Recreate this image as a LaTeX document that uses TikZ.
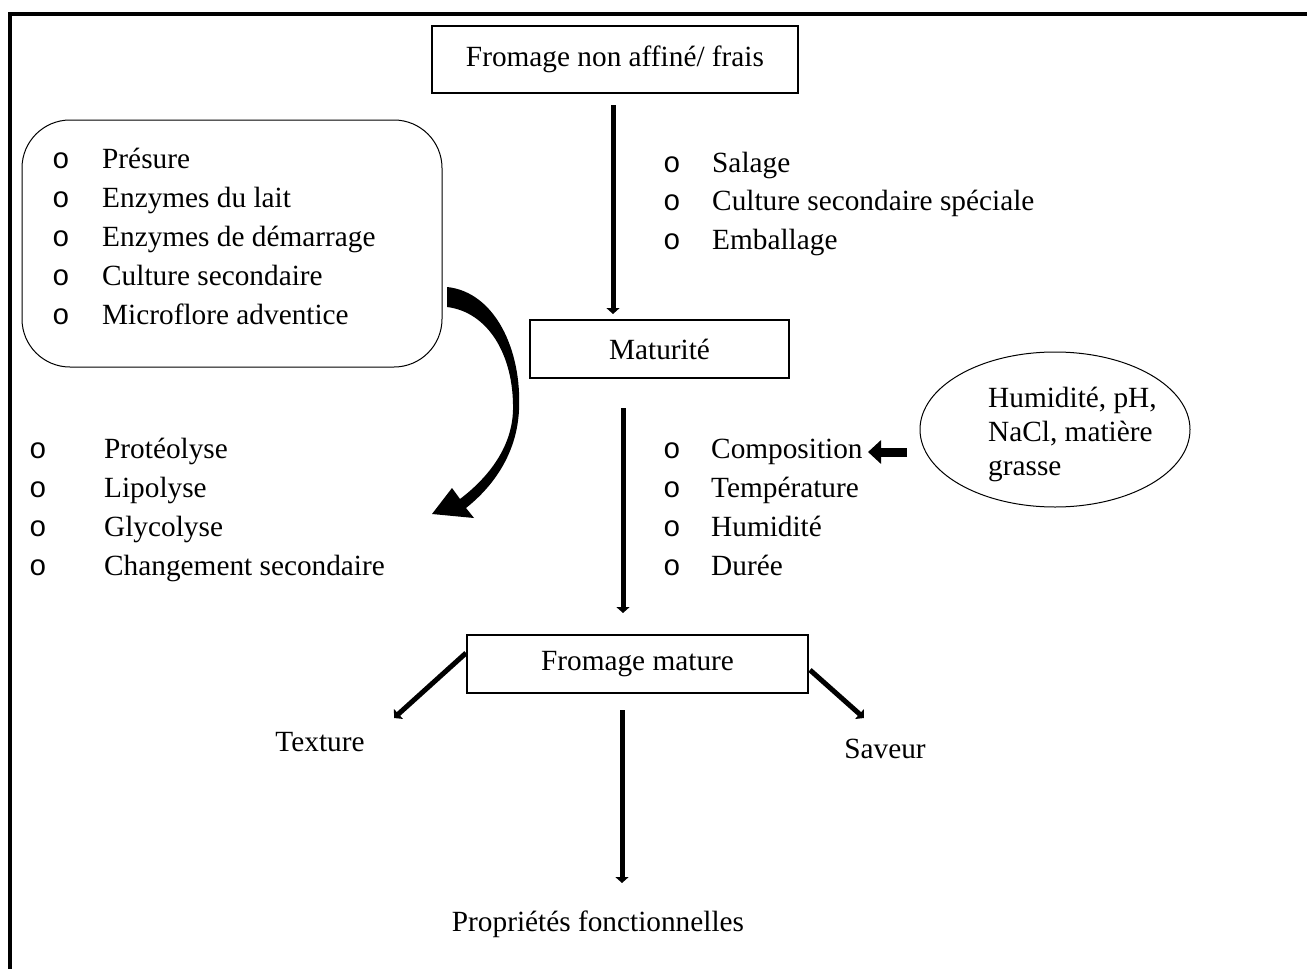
\documentclass[tikz,border=0pt]{standalone}
\usepackage{fontspec}
\setmainfont{Liberation Serif}
\setmonofont{Liberation Mono}
\usetikzlibrary{arrows.meta,shapes.geometric}
\newcommand\bulo[1]{\makebox[#1pt][l]{\ttfamily o}}
\begin{document}
\begin{tikzpicture}[x=1pt,y=-1pt,
  font=\fontsize{29.3}{34}\selectfont,
  box/.style={draw,line width=1.6pt,inner sep=0pt},
  item/.style={anchor=base west,inner sep=0pt},
  label/.style={inner sep=0pt},
  thickarrow/.style={line width=5pt,-{Triangle[width=13pt,length=6pt]}},
  fatarrow/.style={line width=9pt,-{Triangle[width=23pt,length=13pt]}}]
\useasboundingbox (0,0) rectangle (1307,969);
% frame
\draw[line width=4pt] (9.5,969) -- (9.5,13.5) -- (1307,13.5);

% boxes
\node[box,minimum width=366pt,minimum height=67pt] (fresh) at (615,59.5) {Fromage non affiné/ frais};
\node[box,minimum width=259pt,minimum height=58pt] (matur) at (659.5,349) {Maturité};
\node[box,minimum width=341pt,minimum height=58pt] (mature) at (637.5,664) {Fromage mature};
\node[draw,line width=1pt,rounded corners=48pt,minimum width=420pt,minimum height=247pt] (agents) at (232,243.5) {};
\node[draw,line width=1pt,ellipse,minimum width=270pt,minimum height=155pt] (params) at (1055,429.5) {};
\node[label,align=left,anchor=west] (paramtxt) at (988,434) {Humidité, pH,\\NaCl, matière\\grasse};

% agents list
\foreach \t [count=\i] in {Présure,Enzymes du lait,Enzymes de démarrage,Culture secondaire,Microflore adventice}
  \node[item] (ag-\i) at (52,{168+39*(\i-1)}) {\bulo{50}\t};
% salage list
\foreach \t [count=\i] in {Salage,Culture secondaire spéciale,Emballage}
  \node[item] (sa-\i) at (663,{172+38.5*(\i-1)}) {\bulo{49}\t};
% biochemical list
\foreach \t [count=\i] in {Protéolyse,Lipolyse,Glycolyse,Changement secondaire}
  \node[item] (bi-\i) at (29,{458+39*(\i-1)}) {\bulo{75}\t};
% conditions list
\foreach \t [count=\i] in {Composition,Température,Humidité,Durée}
  \node[item] (co-\i) at (663,{458+39*(\i-1)}) {\bulo{48}\t};

% outputs
\node[label] (texture) at (320,742) {Texture};
\node[label] (saveur) at (885,749) {Saveur};
\node[label] (propr) at (598,924) {Propriétés fonctionnelles};

% arrow coordinates
\coordinate (a1s) at (613,105); \coordinate (a1e) at (613,314);
\coordinate (a2s) at (623,408); \coordinate (a2e) at (623,613);
\coordinate (a3s) at (622,710); \coordinate (a3e) at (622,883);
\coordinate (dls) at (466,653); \coordinate (dle) at (394,718);
\coordinate (drs) at (810,670); \coordinate (dre) at (864,718);
\coordinate (fas) at (907,452); \coordinate (fae) at (868,452);

\draw[thickarrow] (a1s) -- (a1e);
\draw[thickarrow] (a2s) -- (a2e);
\draw[thickarrow] (a3s) -- (a3e);
\draw[thickarrow] (dls) -- (dle);
\draw[thickarrow] (drs) -- (dre);
\draw[fatarrow] (fas) -- (fae);

% curved arrow
\fill[black] (447,287) .. controls (495,292) and (522,350) .. (519,410)
  .. controls (517,452) and (495,485) .. (466,508)
  -- (474,518) -- (432,514) -- (452,488) -- (460,499)
  .. controls (485,480) and (512,450) .. (513,410)
  .. controls (514,355) and (488,312) .. (447,307) -- cycle;
\end{tikzpicture}
\end{document}
